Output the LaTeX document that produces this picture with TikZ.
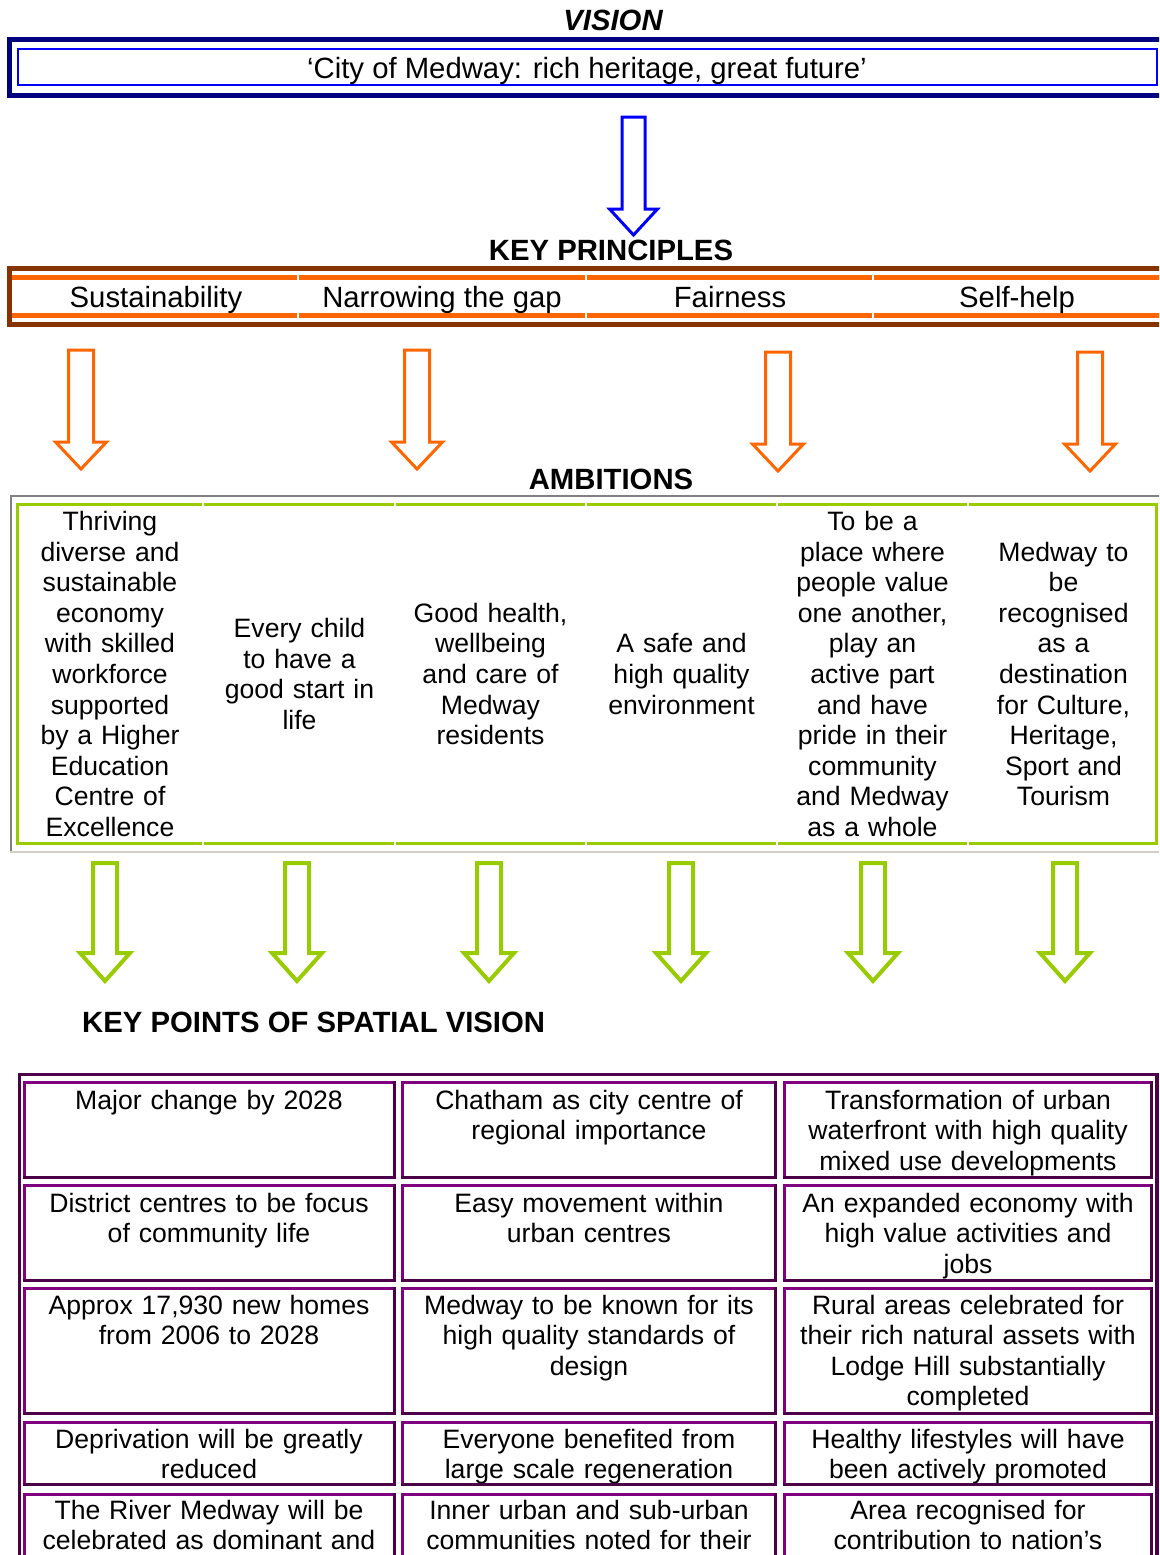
\documentclass[tikz,border=0pt]{standalone}
\usepackage{fontspec}
\setmainfont{Liberation Sans}
\definecolor{vnavy}{RGB}{0,0,128}
\definecolor{vblue}{RGB}{0,0,255}
\definecolor{kbrown}{RGB}{133,51,0}
\definecolor{korange}{RGB}{255,102,0}
\definecolor{agreen}{RGB}{153,204,0}
\definecolor{agray}{RGB}{128,128,128}
\definecolor{alight}{RGB}{212,208,200}
\definecolor{tpurple}{RGB}{128,0,128}
\definecolor{tdark}{RGB}{75,0,72}
% #1 colour, #2 centre x, #3 top y, #4 head base y, #5 tip y, #6 half shaft, #7 half head, #8 line width
\newcommand\bigarr[8]{\draw[#1,line width=#8pt,miter limit=10]
  ({#2-#6},#3) -- ({#2+#6},#3) -- ({#2+#6},#4) -- ({#2+#7},#4) -- (#2,#5)
  -- ({#2-#7},#4) -- ({#2-#6},#4) -- cycle;}
% table cell: #1 x1, #2 y1, #3 x2, #4 y2
\newcommand\tcell[4]{%
  \draw[tpurple,line width=3pt,line cap=rect] (#1,#4) -- (#1,#2) -- (#3,#2);
  \draw[tdark,line width=3pt,line cap=rect] (#3,#2) -- (#3,#4) -- (#1,#4);}
\begin{document}
\begin{tikzpicture}[x=1pt,y=-1pt,
  body/.style={font=\fontsize{26.6}{30.6}\selectfont, inner sep=0pt, align=center, anchor=base},
  big/.style={font=\fontsize{29.3}{33}\selectfont, inner sep=0pt, anchor=base},
  headtxt/.style={font=\fontsize{29.3}{33}\selectfont\bfseries, inner sep=0pt, anchor=base},
  amb/.style={body, text width=188pt},
  cell/.style={body, text width=362pt}]
\useasboundingbox (0,0) rectangle (1159,1555);
\clip (0,0) rectangle (1159,1555);

% ---------- VISION ----------
\node[headtxt, font=\fontsize{29.3}{33}\selectfont\bfseries\itshape] (vision) at (613,30.5) {VISION};
\draw[vnavy,line width=5pt] (1175,39.5) -- (9.5,39.5) -- (9.5,95.5) -- (1175,95.5);
\draw[vblue,line width=2pt] (18,49) rectangle (1156.5,85);
\node[big] (visiontext) at (587,78.5) {‘City of Medway: rich heritage, great future’};

% ---------- KEY PRINCIPLES ----------
\node[headtxt] (kp) at (611,260) {KEY PRINCIPLES};
\bigarr{vblue}{633.5}{117}{209}{235}{11.5}{24}{3}
\draw[kbrown,line width=5pt] (1175,268.5) -- (9.5,268.5) -- (9.5,324.5) -- (1175,324.5);
\draw[korange,line width=5pt] (12,277) -- (1175,277);
\draw[korange,line width=5pt] (12,315) -- (1175,315);
\foreach \gx in {298,586,873}{
  \draw[white,line width=1.6pt] (\gx,273) -- (\gx,280);
  \draw[white,line width=1.6pt] (\gx,311) -- (\gx,318);}
\node[big] (kp1) at (156,307) {Sustainability};
\node[big] (kp2) at (442,307) {Narrowing the gap};
\node[big] (kp3) at (730,307) {Fairness};
\node[big] (kp4) at (1017,307) {Self-help};

\bigarr{korange}{81}{350}{442}{469}{12.5}{25.5}{3}
\bigarr{korange}{417}{350}{442}{469}{12.5}{25.5}{3}
\bigarr{korange}{778}{352}{444}{471}{12.5}{25.5}{3}
\bigarr{korange}{1090}{352}{444}{471}{12.5}{25.5}{3}

% ---------- AMBITIONS ----------
\node[headtxt] (amb) at (611,489) {AMBITIONS};
\draw[agray,line width=2pt] (11,853) -- (11,496) -- (1165,496);
\draw[alight,line width=2pt] (10,852) -- (1165,852);
\draw[agreen,line width=3pt] (17.5,504.5) rectangle (1156,843);
\foreach \gx in {203,395,586,777,968}{
  \draw[white,line width=1.5pt] (\gx,502) -- (\gx,507);
  \draw[white,line width=1.5pt] (\gx,840.5) -- (\gx,845.5);}
\node[amb] (a1) at (110,530.5) {Thriving\\diverse and\\sustainable\\economy\\with skilled\\workforce\\supported\\by a Higher\\Education\\Centre of\\Excellence};
\node[amb] (a2) at (299.5,637.6) {Every child\\to have a\\good start in\\life};
\node[amb] (a3) at (490.5,622.3) {Good health,\\wellbeing\\and care of\\Medway\\residents};
\node[amb] (a4) at (681.5,652.9) {A safe and\\high quality\\environment};
\node[amb] (a5) at (872.5,530.5) {To be a\\place where\\people value\\one another,\\play an\\active part\\and have\\pride in their\\community\\and Medway\\as a whole};
\node[amb] (a6) at (1063.5,561.1) {Medway to\\be\\recognised\\as a\\destination\\for Culture,\\Heritage,\\Sport and\\Tourism};

\foreach \ax in {105,297,489,681,873,1065}{
  \bigarr{agreen}{\ax}{863}{953}{981}{12}{25}{4}}

% ---------- KEY POINTS OF SPATIAL VISION ----------
\node[headtxt, anchor=base west] (ksv) at (82,1032) {KEY POINTS OF SPATIAL VISION};
\draw[tdark,line width=3.5pt] (19.5,1620) -- (19.5,1074.5) -- (1157,1074.5) -- (1157,1620);

\tcell{24}{1082.5}{394.5}{1177.5}
\tcell{402.5}{1082.5}{775.5}{1177.5}
\tcell{784.5}{1082.5}{1151}{1177.5}
\tcell{24}{1185.5}{394.5}{1280}
\tcell{402.5}{1185.5}{775.5}{1280}
\tcell{784.5}{1185.5}{1151}{1280}
\tcell{24}{1288.5}{394.5}{1413}
\tcell{402.5}{1288.5}{775.5}{1413}
\tcell{784.5}{1288.5}{1151}{1413}
\tcell{24}{1422.5}{394.5}{1484.5}
\tcell{402.5}{1422.5}{775.5}{1484.5}
\tcell{784.5}{1422.5}{1151}{1484.5}
\tcell{24}{1494}{394.5}{1620}
\tcell{402.5}{1494}{775.5}{1620}
\tcell{784.5}{1494}{1151}{1620}

\node[cell] (c11) at (209,1109) {Major change by 2028};
\node[cell] (c12) at (589,1109) {Chatham as city centre of\\regional importance};
\node[cell] (c13) at (968,1109) {Transformation of urban\\waterfront with high quality\\mixed use developments};
\node[cell] (c21) at (209,1212) {District centres to be focus\\of community life};
\node[cell] (c22) at (589,1212) {Easy movement within\\urban centres};
\node[cell] (c23) at (968,1212) {An expanded economy with\\high value activities and\\jobs};
\node[cell] (c31) at (209,1314) {Approx 17,930 new homes\\from 2006 to 2028};
\node[cell] (c32) at (589,1314) {Medway to be known for its\\high quality standards of\\design};
\node[cell] (c33) at (968,1314) {Rural areas celebrated for\\their rich natural assets with\\Lodge Hill substantially\\completed};
\node[cell] (c41) at (209,1448) {Deprivation will be greatly\\reduced};
\node[cell] (c42) at (589,1448) {Everyone benefited from\\large scale regeneration};
\node[cell] (c43) at (968,1448) {Healthy lifestyles will have\\been actively promoted};
\node[cell] (c51) at (209,1519) {The River Medway will be\\celebrated as dominant and};
\node[cell] (c52) at (589,1519) {Inner urban and sub-urban\\communities noted for their};
\node[cell] (c53) at (968,1519) {Area recognised for\\contribution to nation’s};
\end{tikzpicture}
\end{document}
